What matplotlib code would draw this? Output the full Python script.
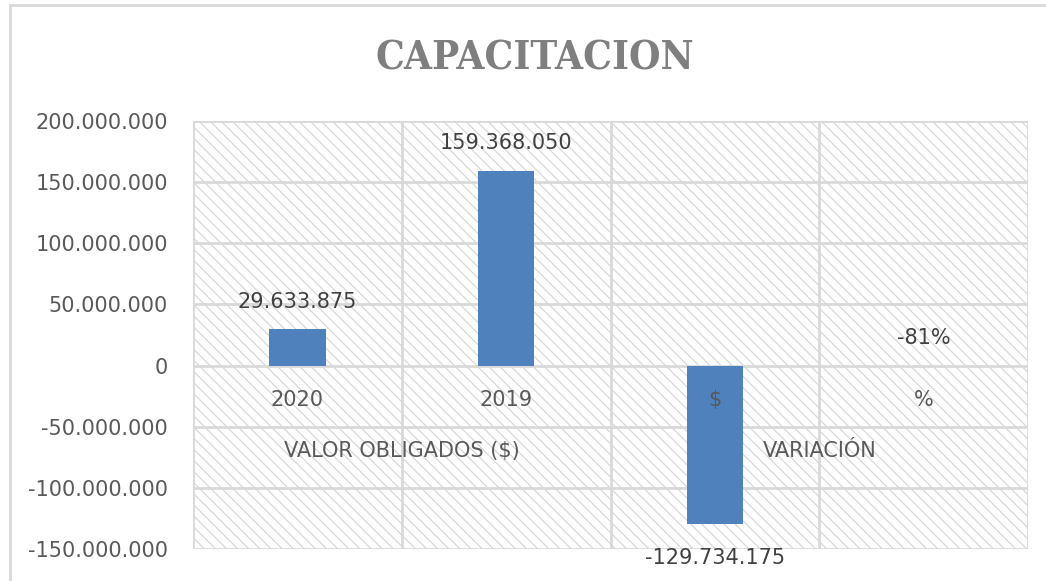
import matplotlib
matplotlib.use("Agg")
import matplotlib.pyplot as plt
from matplotlib.patches import Rectangle
from matplotlib.lines import Line2D
from matplotlib.ticker import FuncFormatter

categories = ["2020", "2019", "$", "%"]
groups = ["VALOR OBLIGADOS ($)", "VARIACIÓN"]
values = [29633875, 159368050, -129734175, -0.81]
labels = ["29.633.875", "159.368.050", "-129.734.175", "-81%"]
title = "CAPACITACION"

body_font = "DejaVu Sans"
fs = 15

plt.rcParams['hatch.linewidth'] = 0.8
plt.rcParams['hatch.color'] = '#D4D4D4'

W, H = 1046, 581
fig = plt.figure(figsize=(W / 100, H / 100), dpi=100)

# outer chart border (left and top visible)
fig.add_artist(Line2D([10 / W, 10 / W], [0, 1 - 5 / H], transform=fig.transFigure, color='#D9D9D9', lw=2))
fig.add_artist(Line2D([10 / W, 1], [1 - 5 / H, 1 - 5 / H], transform=fig.transFigure, color='#D9D9D9', lw=2))

left, right = 193 / W, 1028 / W
top, bottom = 1 - 121 / H, 1 - 549 / H
ax = fig.add_axes([left, bottom, right - left, top - bottom])
ax.set_facecolor('white')
ax.add_patch(Rectangle((0, 0), 1, 1, transform=ax.transAxes, facecolor='white',
                       edgecolor='#D4D4D4', hatch='\\\\\\', lw=0, zorder=0))

x = list(range(len(categories)))
ax.set_xlim(-0.5, len(categories) - 0.5)
ax.set_ylim(-150e6, 200e6)
ax.set_yticks([-150e6, -100e6, -50e6, 0, 50e6, 100e6, 150e6, 200e6])
ax.yaxis.set_major_formatter(FuncFormatter(lambda v, p: f"{v:,.0f}".replace(",", ".")))
ax.grid(axis='y', color='#D9D9D9', lw=2, zorder=1)
for b in [-0.5, 0.5, 1.5, 2.5, 3.5]:
    ax.axvline(b, color='#D9D9D9', lw=2, zorder=1)
ax.set_xticks([])
ax.tick_params(axis='y', length=0, pad=18, labelsize=fs, labelcolor='#595959')
for s in ax.spines.values():
    s.set_visible(False)

ax.bar(x, values, width=0.27, color='#4F81BD', zorder=3)

for xi, v, lab in zip(x, values, labels):
    if v >= 0 or abs(v) < 1:
        ax.annotate(lab, (xi, max(v, 0)), xytext=(0, 20), textcoords='offset points',
                    ha='center', va='center', fontsize=fs, color='#404040', family=body_font, zorder=4)
    else:
        ax.annotate(lab, (xi, v), xytext=(0, -24), textcoords='offset points',
                    ha='center', va='center', fontsize=fs, color='#404040', family=body_font, zorder=4)

for xi, c in zip(x, categories):
    ax.annotate(c, (xi, 0), xytext=(0, -25), textcoords='offset points', ha='center', va='center',
                fontsize=fs, color='#595959', family=body_font, zorder=4)
for gi, g in enumerate(groups):
    ax.annotate(g, (gi * 2 + 0.5, 0), xytext=(0, -61.5), textcoords='offset points', ha='center', va='center',
                fontsize=fs, color='#595959', family=body_font, zorder=4)

fig.text((380 + 690) / 2 / W, 1 - 58 / H, title, ha='center', va='center', fontsize=29,
         fontweight='bold', color='#7F7F7F', family='DejaVu Serif', fontstretch='condensed')

fig.savefig('out.png', dpi=100)
